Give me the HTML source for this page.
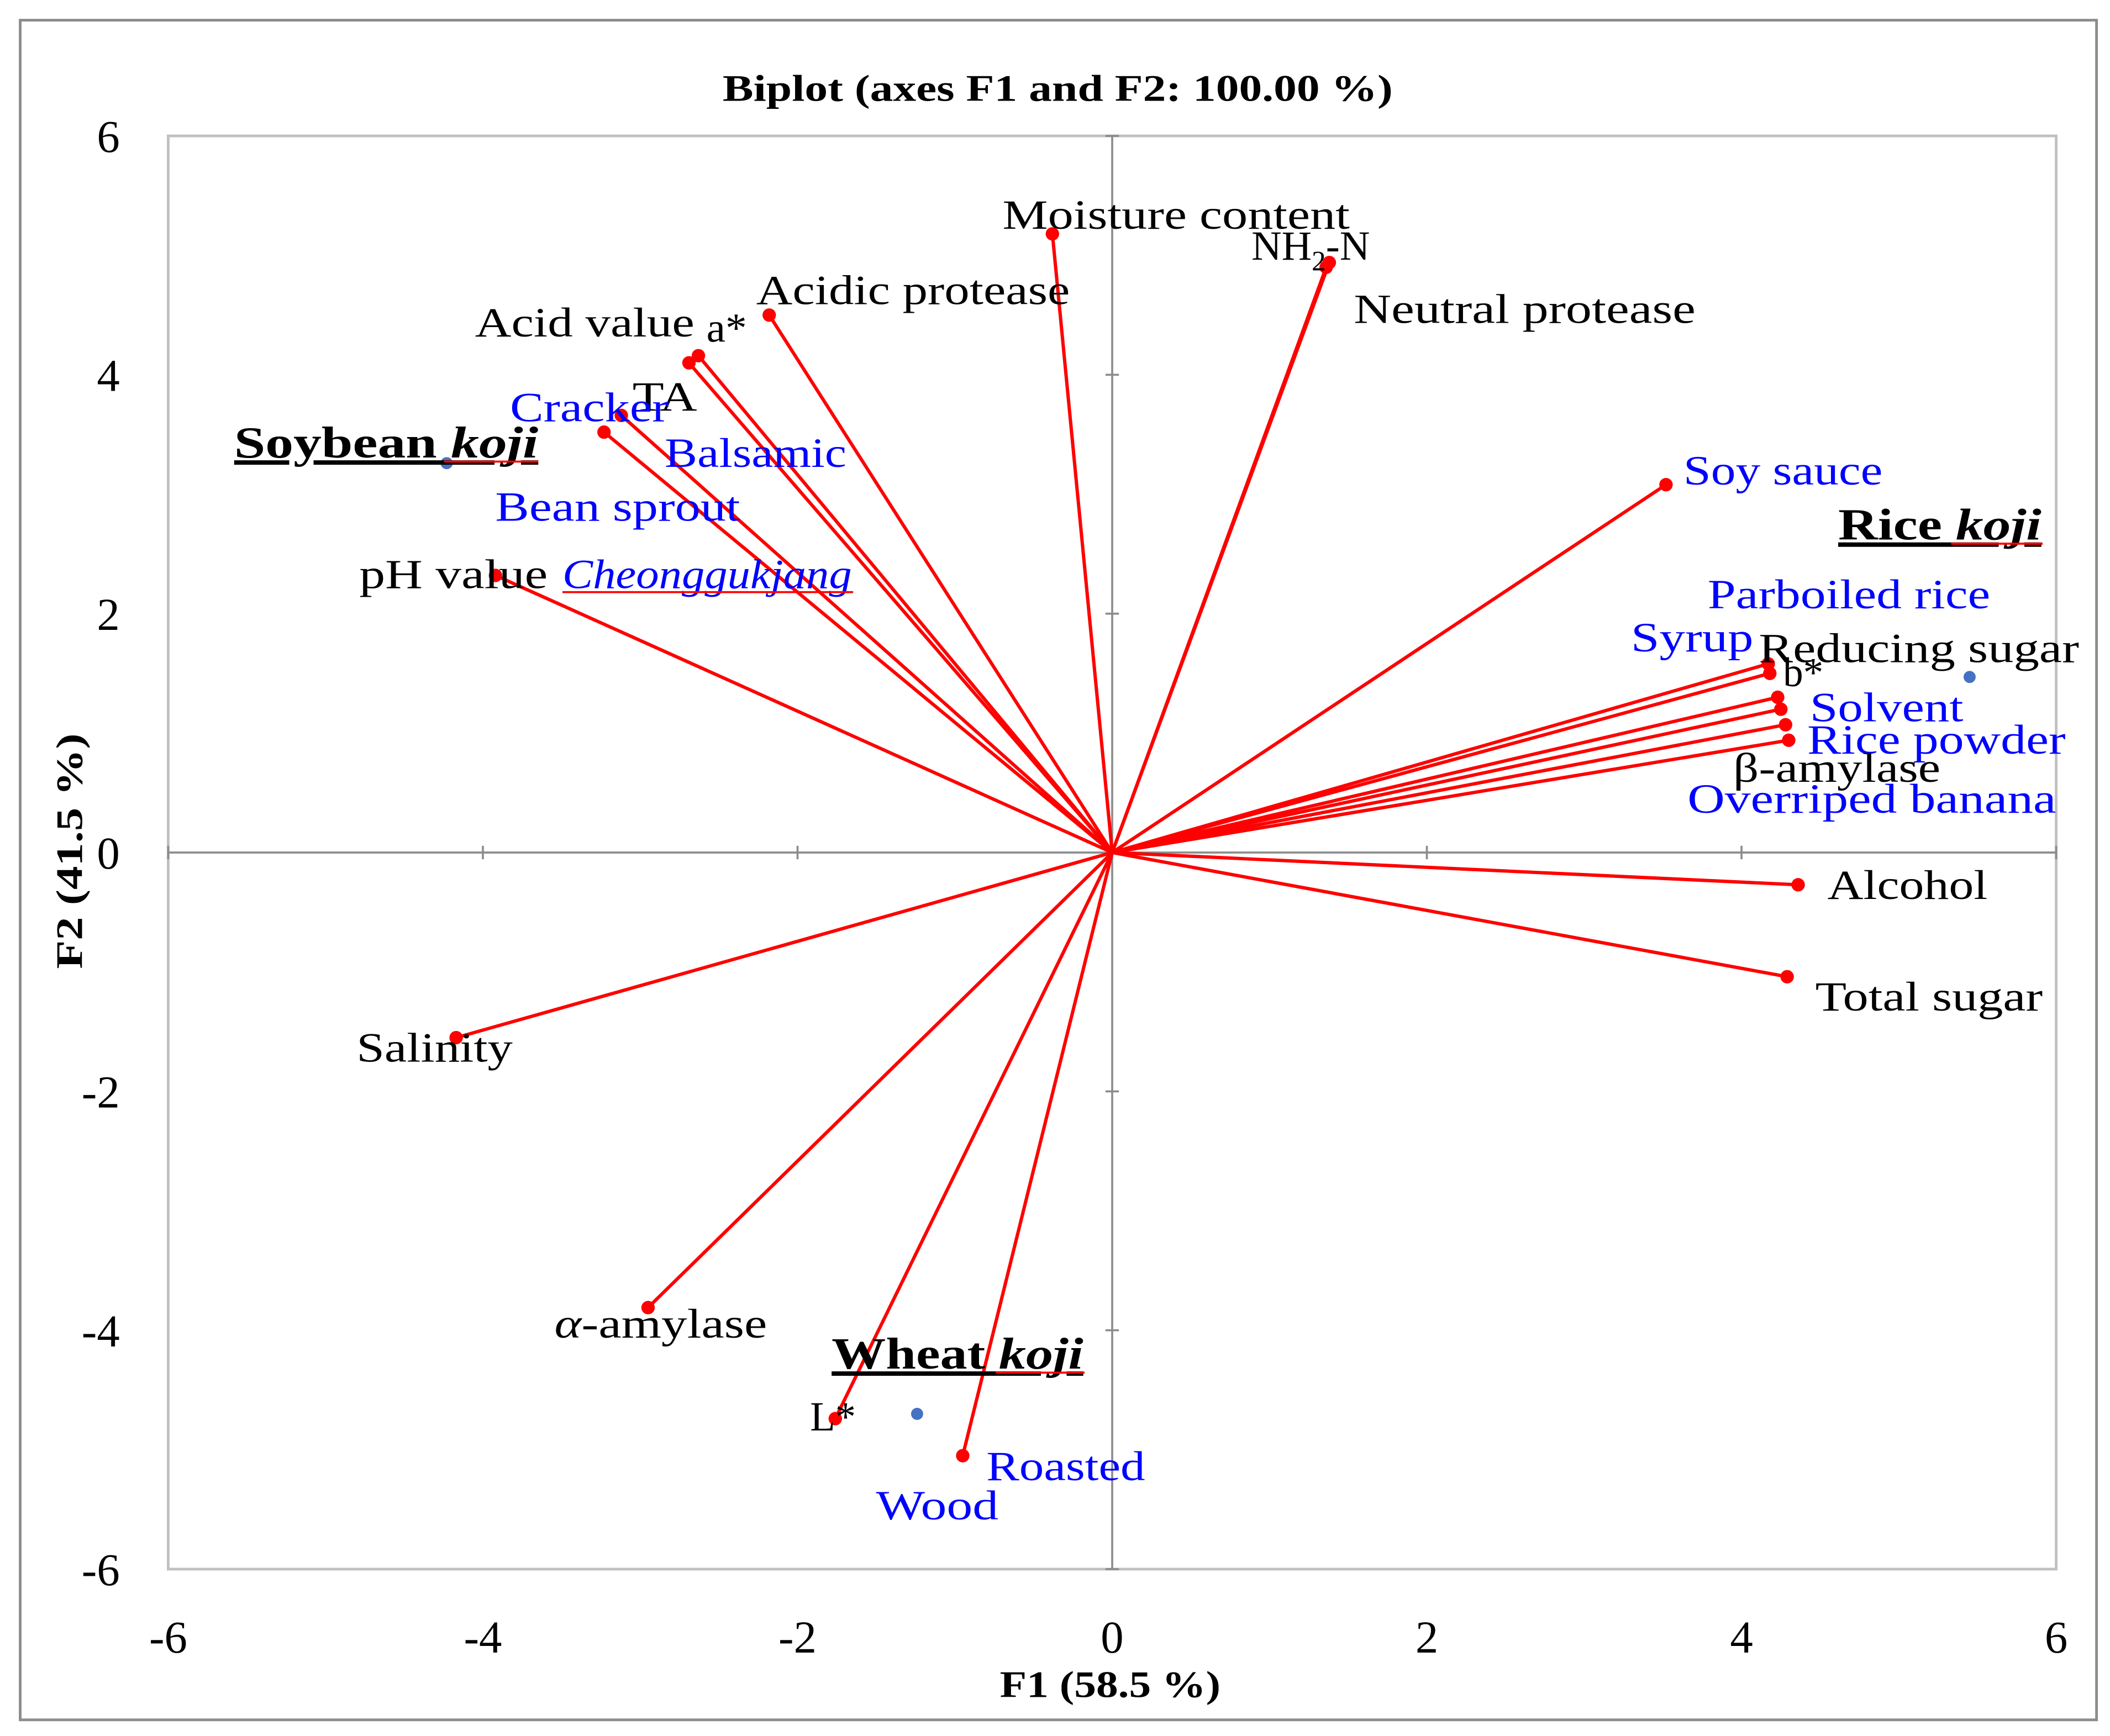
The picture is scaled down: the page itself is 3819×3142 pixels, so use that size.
<!DOCTYPE html>
<html><head><meta charset="utf-8"><title>Biplot</title>
<style>
html,body{margin:0;padding:0;background:#fff;}
svg{display:block;font-family:"Liberation Serif",serif;}
</style></head>
<body>
<svg id="chart" width="3819" height="3142" viewBox="0 0 1568 1290" preserveAspectRatio="none" xmlns="http://www.w3.org/2000/svg">
  <rect x="15" y="15" width="1543" height="1263" fill="#fff" stroke="#8c8c8c" stroke-width="2"/>
  <rect x="125" y="101" width="1403" height="1065" fill="#fff" stroke="#c0c0c0" stroke-width="2"/>
  <g id="axes"></g>
  <g id="vectors"></g>
  <g id="obs"></g>
  <g id="labels" font-size="31" lengthAdjust="spacingAndGlyphs">
    <text x="537" y="75" font-weight="bold" font-size="28" textLength="498" lengthAdjust="spacingAndGlyphs">Biplot (axes F1 and F2: 100.00 %)</text>
    <text x="743" y="1261" font-weight="bold" font-size="28" textLength="164" lengthAdjust="spacingAndGlyphs">F1 (58.5 %)</text>
    <text transform="translate(61,720) rotate(-90)" font-weight="bold" font-size="28" textLength="175" lengthAdjust="spacingAndGlyphs">F2 (41.5 %)</text>

    <text x="745" y="170" textLength="258" lengthAdjust="spacingAndGlyphs">Moisture content</text>
    <text x="930" y="193">NH<tspan font-size="21" dy="8">2</tspan><tspan dy="-8">-N</tspan></text>
    <text x="1006" y="240" textLength="254" lengthAdjust="spacingAndGlyphs">Neutral protease</text>
    <text x="562" y="226" textLength="233" lengthAdjust="spacingAndGlyphs">Acidic protease</text>
    <text x="353" y="250" textLength="163" lengthAdjust="spacingAndGlyphs">Acid value</text>
    <text x="525" y="254" textLength="30" lengthAdjust="spacingAndGlyphs">a*</text>
    <text x="470" y="305" textLength="48" lengthAdjust="spacingAndGlyphs">TA</text>
    <text x="379" y="313" fill="#0000ff" textLength="118" lengthAdjust="spacingAndGlyphs">Cracker</text>
    <text x="494" y="347" fill="#0000ff" textLength="135" lengthAdjust="spacingAndGlyphs">Balsamic</text>
    <text x="368" y="387" fill="#0000ff" textLength="182" lengthAdjust="spacingAndGlyphs">Bean sprout</text>
    <text x="267" y="437" textLength="140" lengthAdjust="spacingAndGlyphs">pH value</text>
    <text x="418" y="437" fill="#0000ff" font-style="italic" textLength="215" lengthAdjust="spacingAndGlyphs">Cheonggukjang</text>
    <line x1="418" y1="440" x2="634" y2="440" stroke="#ff0000" stroke-width="1.5"/>

    <text x="174" y="340" font-weight="bold" font-size="33" text-decoration="underline" textLength="226" lengthAdjust="spacingAndGlyphs">Soybean <tspan font-style="italic">koji</tspan></text>
    <line x1="330" y1="343" x2="400" y2="343" stroke="#ff0000" stroke-width="1.5"/>
    <text x="1366" y="401" font-weight="bold" font-size="33" text-decoration="underline" textLength="151" lengthAdjust="spacingAndGlyphs">Rice <tspan font-style="italic">koji</tspan></text>
    <line x1="1450" y1="404" x2="1518" y2="404" stroke="#ff0000" stroke-width="1.5"/>
    <text x="618" y="1017" font-weight="bold" font-size="33" text-decoration="underline" textLength="187" lengthAdjust="spacingAndGlyphs">Wheat <tspan font-style="italic">koji</tspan></text>
    <line x1="740" y1="1020" x2="806" y2="1020" stroke="#ff0000" stroke-width="1.5"/>

    <text x="1251" y="360" fill="#0000ff" textLength="148" lengthAdjust="spacingAndGlyphs">Soy sauce</text>
    <text x="1269" y="452" fill="#0000ff" textLength="210" lengthAdjust="spacingAndGlyphs">Parboiled rice</text>
    <text x="1212" y="484" fill="#0000ff" textLength="91" lengthAdjust="spacingAndGlyphs">Syrup</text>
    <text x="1307" y="492" textLength="238" lengthAdjust="spacingAndGlyphs">Reducing sugar</text>
    <text x="1325" y="510" textLength="30" lengthAdjust="spacingAndGlyphs">b*</text>
    <text x="1345" y="536" fill="#0000ff" textLength="114" lengthAdjust="spacingAndGlyphs">Solvent</text>
    <text x="1343" y="560" fill="#0000ff" textLength="192" lengthAdjust="spacingAndGlyphs">Rice powder</text>
    <text x="1288" y="581" textLength="154" lengthAdjust="spacingAndGlyphs">β-amylase</text>
    <text x="1254" y="604" fill="#0000ff" textLength="274" lengthAdjust="spacingAndGlyphs">Overriped banana</text>
    <text x="1358" y="668" textLength="119" lengthAdjust="spacingAndGlyphs">Alcohol</text>
    <text x="1349" y="751" textLength="169" lengthAdjust="spacingAndGlyphs">Total sugar</text>
    <text x="265" y="789" textLength="116" lengthAdjust="spacingAndGlyphs">Salinity</text>
    <text x="412" y="994" textLength="158" lengthAdjust="spacingAndGlyphs"><tspan font-style="italic">α</tspan>-amylase</text>
    <text x="602" y="1063" textLength="34" lengthAdjust="spacingAndGlyphs">L*</text>
    <text x="733" y="1100" fill="#0000ff" textLength="118" lengthAdjust="spacingAndGlyphs">Roasted</text>
    <text x="651" y="1129" fill="#0000ff" textLength="91" lengthAdjust="spacingAndGlyphs">Wood</text>
  </g>
</svg>
<script>
// Axis tick values
const xTicks = [-6, -4, -2, 0, 2, 4, 6];
const yTicks = [-6, -4, -2, 0, 2, 4, 6];
// Variable vectors (F1, F2)
const varNames = ["Moisture content","NH2-N","Neutral protease","Acidic protease","a*","Acid value","TA","Cracker","pH value","Salinity","alpha-amylase","L*","Roasted","Soy sauce","Reducing sugar","b*","Solvent","Parboiled rice","Rice powder","beta-amylase","Alcohol","Total sugar"];
const varF1 = [-0.38, 1.38, 1.36, -2.18, -2.63, -2.69, -3.12, -3.23, -3.92, -4.17, -2.95, -1.76, -0.95, 3.52, 4.17, 4.18, 4.23, 4.25, 4.28, 4.30, 4.36, 4.29];
const varF2 = [5.18, 4.94, 4.90, 4.50, 4.16, 4.10, 3.66, 3.52, 2.32, -1.55, -3.81, -4.74, -5.05, 3.08, 1.58, 1.50, 1.30, 1.20, 1.07, 0.94, -0.27, -1.04];
// Observations
const obsNames = ["Soybean koji","Rice koji","Wheat koji"];
const obsF1 = [-4.23, 5.45, -1.24];
const obsF2 = [3.26, 1.47, -4.70];

const NS = "http://www.w3.org/2000/svg";
const X0 = 125, X1 = 1528, Y0 = 1166, Y1 = 101;
function sx(v){ return X0 + (v + 6) / 12 * (X1 - X0); }
function sy(v){ return Y0 - (v + 6) / 12 * (Y0 - Y1); }
function mk(tag, attrs){ const e = document.createElementNS(NS, tag); for (const k in attrs) e.setAttribute(k, attrs[k]); return e; }

const axes = document.getElementById("axes");
const xAxis = mk("line", {x1: sx(-6), y1: sy(0), x2: sx(6), y2: sy(0), stroke: "#8c8c8c", "stroke-width": 1.5});


axes.appendChild(xAxis);
const yAxis = mk("line", {x1: sx(0), y1: sy(-6), x2: sx(0), y2: sy(6), stroke: "#8c8c8c", "stroke-width": 1.5});


axes.appendChild(yAxis);

xTicks.forEach(v => {
  const t = mk("line", {x1: sx(v), y1: sy(0) - 5, x2: sx(v), y2: sy(0) + 5, stroke: "#8c8c8c", "stroke-width": 1.5});
  
  
  axes.appendChild(t);
  const l = mk("text", {x: sx(v), y: 1228, "text-anchor": "middle", "font-size": 34});
  l.textContent = String(v);
  
  
  axes.appendChild(l);
});
yTicks.forEach(v => {
  const t = mk("line", {x1: sx(0) - 5, y1: sy(v), x2: sx(0) + 5, y2: sy(v), stroke: "#8c8c8c", "stroke-width": 1.5});
  
  
  axes.appendChild(t);
  const l = mk("text", {x: 89, y: sy(v) + 12, "text-anchor": "end", "font-size": 34});
  l.textContent = String(v);
  
  
  axes.appendChild(l);
});

const vg = document.getElementById("vectors");
varF1.forEach((f1, i) => {
  const ln = mk("line", {x1: sx(0), y1: sy(0), x2: sx(f1), y2: sy(varF2[i]), stroke: "#ff0000", "stroke-width": 2.5});
  
  
  vg.appendChild(ln);
  const c = mk("circle", {cx: sx(f1), cy: sy(varF2[i]), r: 5, fill: "#ff0000"});
  
  
  vg.appendChild(c);
});

const og = document.getElementById("obs");
obsF1.forEach((f1, i) => {
  const c = mk("circle", {cx: sx(f1), cy: sy(obsF2[i]), r: 4.5, fill: "#4472c4"});
  
  
  og.appendChild(c);
});
</script>
</body></html>
